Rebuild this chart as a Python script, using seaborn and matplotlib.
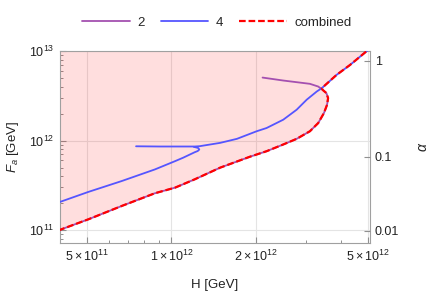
import numpy as np
import pandas as pd
import matplotlib
matplotlib.use("Agg")
import matplotlib.pyplot as plt
import seaborn as sns
from matplotlib.ticker import FixedLocator, NullLocator, LogLocator, NullFormatter

# curve "2" (purple): from its upper-left end, round the nose, down to the left edge
h2 = [2.11e12, 2.50e12, 3.11e12, 3.33e12, 3.45e12, 3.56e12, 3.61e12, 3.58e12, 3.49e12,
      3.33e12, 3.11e12, 2.79e12, 2.50e12, 2.18e12, 1.90e12, 1.49e12, 1.21e12, 1.03e12,
      8.73e11, 6.65e11, 5.06e11, 3.95e11]
f2 = [5.05e12, 4.68e12, 4.30e12, 4.01e12, 3.69e12, 3.39e12, 2.98e12, 2.51e12, 2.03e12,
      1.57e12, 1.27e12, 1.045e12, 9.04e11, 7.60e11, 6.59e11, 4.98e11, 3.69e11, 2.98e11,
      2.58e11, 1.86e11, 1.32e11, 9.9e10]

# curve "4" (blue), lower branch up to the hook
h4_low = [3.95e11, 5.06e11, 6.65e11, 8.73e11, 1.03e12, 1.10e12, 1.21e12, 1.24e12,
          1.256e12, 1.245e12, 1.20e12]
f4_low = [2.03e11, 2.67e11, 3.53e11, 4.76e11, 5.89e11, 6.43e11, 7.41e11, 7.64e11,
          7.94e11, 8.26e11, 8.51e11]
# curve "4" (blue), flat piece and upper branch
h4_up = [7.48e11, 9.10e11, 1.117e12, 1.21e12, 1.26e12, 1.49e12, 1.71e12, 2.01e12, 2.18e12,
         2.50e12, 2.79e12, 3.03e12, 3.29e12, 3.43e12, 3.87e12, 4.32e12, 5.01e12]
f4_up = [8.63e11, 8.58e11, 8.58e11, 8.58e11, 8.65e11, 9.42e11, 1.045e12, 1.27e12, 1.38e12,
         1.71e12, 2.21e12, 2.86e12, 3.53e12, 3.85e12, 5.41e12, 6.98e12, 1.026e13]

# combined = lower part of "2" up to the crossing, then "4" above it
comb_h = h2[4:][::-1] + h4_up[13:]
comb_f = f2[4:][::-1] + f4_up[13:]

xticks = [5e11, 1e12, 2e12, 5e12]
xticklabels = [r"$5\times10^{11}$", r"$1\times10^{12}$", r"$2\times10^{12}$", r"$5\times10^{12}$"]
yticks = [1e11, 1e12, 1e13]
yticklabels = [r"$10^{11}$", r"$10^{12}$", r"$10^{13}$"]
alpha_pos = [10**12.892, 10**11.819, 10**10.992]
alpha_labels = ["1", "0.1", "0.01"]

sns.set_theme(style="ticks")
plt.rcParams["font.family"] = ["Liberation Sans", "DejaVu Sans"]
plt.rcParams["mathtext.fontset"] = "custom"
plt.rcParams["mathtext.rm"] = "Liberation Sans"
plt.rcParams["mathtext.it"] = "Liberation Sans:italic"

purple = "#a450b0"
blue = "#5555ff"
red = "#ff0000"

fig = plt.figure(figsize=(4.34, 2.99), dpi=100)
ax = fig.add_axes([60/434, 1-243/299, 310/434, 192/299])

ax.set_xscale("log")
ax.set_yscale("log")
ax.set_xlim(4.01e11, 5.09e12)
ax.set_ylim(10**10.856, 1e13)

ax.fill_betweenx(comb_f, 3e11, comb_h, color=red, alpha=0.13, lw=0, zorder=1)

sns.lineplot(x=h2, y=f2, sort=False, estimator=None, color=purple, lw=1.3, ax=ax,
             label="2", zorder=3)
sns.lineplot(x=h4_low, y=f4_low, sort=False, estimator=None, color=blue, lw=1.3, ax=ax,
             zorder=3)
sns.lineplot(x=h4_up, y=f4_up, sort=False, estimator=None, color=blue, lw=1.3, ax=ax,
             label="4", zorder=3)
sns.lineplot(x=comb_h, y=comb_f, sort=False, estimator=None, color=red, lw=1.6, ax=ax,
             label="combined", zorder=4, dashes=False)
ax.lines[-1].set_dashes((3, 1.3))

ax.xaxis.set_major_locator(FixedLocator(xticks))
ax.set_xticklabels(xticklabels)
ax.xaxis.set_minor_locator(LogLocator(base=10, subs=np.arange(2, 10), numticks=20))
ax.xaxis.set_minor_formatter(NullFormatter())
ax.yaxis.set_major_locator(FixedLocator(yticks))
ax.set_yticklabels(yticklabels)
ax.yaxis.set_minor_locator(LogLocator(base=10, subs=np.arange(2, 10), numticks=20))
ax.yaxis.set_minor_formatter(NullFormatter())

ax.grid(True, which="major", color="#e4e4e4", lw=0.8, zorder=0)
ax.set_axisbelow(True)
for s in ax.spines.values():
    s.set_color("#a0a0a0")
    s.set_linewidth(0.8)
ax.tick_params(which="both", direction="in", color="#909090", labelsize=9,
               labelcolor="#222222", right=False, top=False, left=True, bottom=True)
ax.tick_params(which="major", length=4, width=0.8, pad=4)
ax.tick_params(which="minor", length=2.5, width=0.7)

ax.set_xlabel("H [GeV]", fontsize=9.5, labelpad=11, color="#222222")
ax.set_ylabel(r"$F_a$ [GeV]", fontsize=9.5, labelpad=6, color="#222222")

ax2 = ax.twinx()
ax2.set_yscale("log")
ax2.set_ylim(ax.get_ylim())
ax2.yaxis.set_major_locator(FixedLocator(alpha_pos))
ax2.set_yticklabels(alpha_labels)
ax2.yaxis.set_minor_locator(NullLocator())
ax2.tick_params(which="major", direction="in", length=4, width=0.8, color="#909090",
                labelsize=9, labelcolor="#222222")
for s in ax2.spines.values():
    s.set_visible(False)
ax2.set_ylabel(r"$\alpha$", fontsize=10, labelpad=12, color="#222222")

handles, labels = ax.get_legend_handles_labels()
ax.get_legend().remove()
fig.legend(handles, labels, loc="upper center", bbox_to_anchor=(0.5, 0.985), ncol=3,
           frameon=False, fontsize=9.5, handlelength=3.6, columnspacing=1.2, handletextpad=0.6)

fig.savefig("out.png", dpi=100)
